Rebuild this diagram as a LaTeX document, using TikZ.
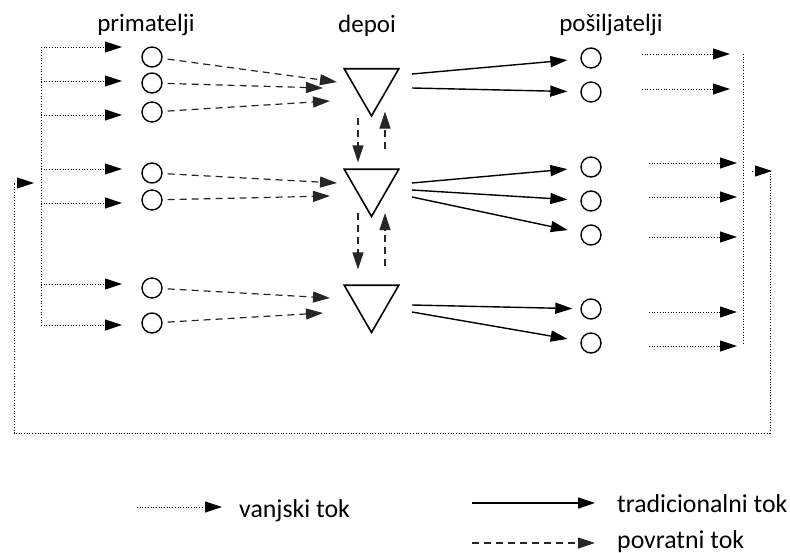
\documentclass[tikz,border=0pt]{standalone}
\usepackage{fontspec}
\setmainfont{Carlito}
\usetikzlibrary{arrows.meta,shapes.geometric,calc}

\tikzset{
  tip/.style={-{Triangle[length=17pt,width=11pt]}},
  vanjski/.style={line width=0.9pt, dash pattern=on 0.9pt off 1.8pt},
  vanjskitok/.style={vanjski, tip},
  tradtok/.style={tip, line width=1.4pt},
  povrattok/.style={tip, line width=1.2pt, dash pattern=on 7pt off 5pt, black!85},
  krug/.style={circle, draw, line width=1.4pt, minimum size=20pt, inner sep=0pt},
  depo/.style={regular polygon, regular polygon sides=3, shape border rotate=180,
    draw, line width=1.6pt, minimum size=63pt, inner sep=0pt},
  naslov/.style={font=\fontsize{25}{29}\selectfont, anchor=base},
  legenda/.style={font=\fontsize{25.8}{30}\selectfont, anchor=base west, inner sep=0pt}
}

\begin{document}
\begin{tikzpicture}[x=1pt, y=-1pt]
\useasboundingbox (0,0) rectangle (790,553);

%naslovi
\node[naslov] (hp) at (146,32) {primatelji};
\node[naslov] (hd) at (367,33) {depoi};
\node[naslov] (hs) at (611,32) {pošiljatelji};

%primatelji, depoi, pošiljatelji
\foreach \n/\y in {1/57, 2/83, 3/112, 4/173, 5/200, 6/288, 7/323}{
   \node[krug] (p\n) at (152,\y) {};
}
\node[depo] (d1) at (371.5,84.5) {};
\node[depo] (d2) at (371.5,185) {};
\node[depo] (d3) at (371.5,301) {};
\foreach \n/\y in {1/58, 2/92, 3/167, 4/201, 5/235, 6/309, 7/343}{
   \node[krug] (s\n) at (591,\y) {};
}

%povratni tok prema depoima
\foreach \n/\x/\y in {1/337/82, 2/323/88, 3/330/101, 4/337/183, 5/330/196, 6/330/298, 7/323/313}{
   \coordinate (u\n) at (\x,\y);
}
\foreach \p/\u in {1/1, 2/2, 3/3, 4/4, 5/5, 6/6, 7/7}{
   \draw[povrattok, shorten <=5pt] (p\p) -- (u\u);
}

%povratni tok izmedju depoa
\draw[povrattok] ([xshift=-13.5pt]d1.south) -- ([xshift=-13.5pt, yshift=6pt]d2.north);
\draw[povrattok] ([xshift=13.5pt, yshift=19pt]d2.north) -- ([xshift=13.5pt, yshift=6pt]d1.south);
\draw[povrattok] ([xshift=-13.5pt, yshift=5pt]d2.south) -- ([xshift=-13.5pt, yshift=15pt]d3.north);
\draw[povrattok] ([xshift=13.5pt, yshift=18pt]d3.north) -- ([xshift=13.5pt, yshift=5pt]d2.south);

%tradicionalni tok
\foreach \n/\y in {1/74, 2/88, 3/183, 4/190, 5/197, 6/305, 7/312}{
   \coordinate (o\n) at (412,\y);
}
\foreach \o/\s in {1/1, 2/2, 3/3, 4/4, 5/5, 7/7}{
   \draw[tradtok, shorten >=13pt] (o\o) -- (s\s);
}
\draw[tradtok, shorten >=8pt] (o6) -- (s6);

%vanjski tok
\draw[vanjski] (41,47) -- (41,325);
\foreach \y in {47, 81, 115, 169, 203, 284, 325}{
   \draw[vanjskitok] (41,\y) -- (122,\y);
}
\foreach \x/\y in {730/54, 730/89, 737/163, 737/197, 737/237, 737/312, 737/346}{
   \draw[vanjskitok] (\x-88,\y) -- (\x,\y);
}
\draw[vanjski] (743,54) -- (743,345);
\draw[vanjski] (770,171) -- (770,433) -- (14,433) -- (14,183);
\draw[vanjskitok] (14,183) -- (34,183);
\draw[vanjskitok] (752,171) -- (772,171);

%legenda
\node[legenda] (lv) at (239,517) {vanjski tok};
\node[legenda] (lt) at (617,512) {tradicionalni tok};
\node[legenda] (lp) at (617,548) {povratni tok};
\coordinate (lva) at (137,507);
\coordinate (lta) at (472,503);
\coordinate (lpa) at (472,543);
\draw[vanjskitok, shorten >=17pt] (lva) -- (lva -| lv.west);
\draw[tradtok, shorten >=22pt] (lta) -- (lta -| lt.west);
\draw[povrattok, shorten >=22pt] (lpa) -- (lpa -| lp.west);
\end{tikzpicture}
\end{document}
